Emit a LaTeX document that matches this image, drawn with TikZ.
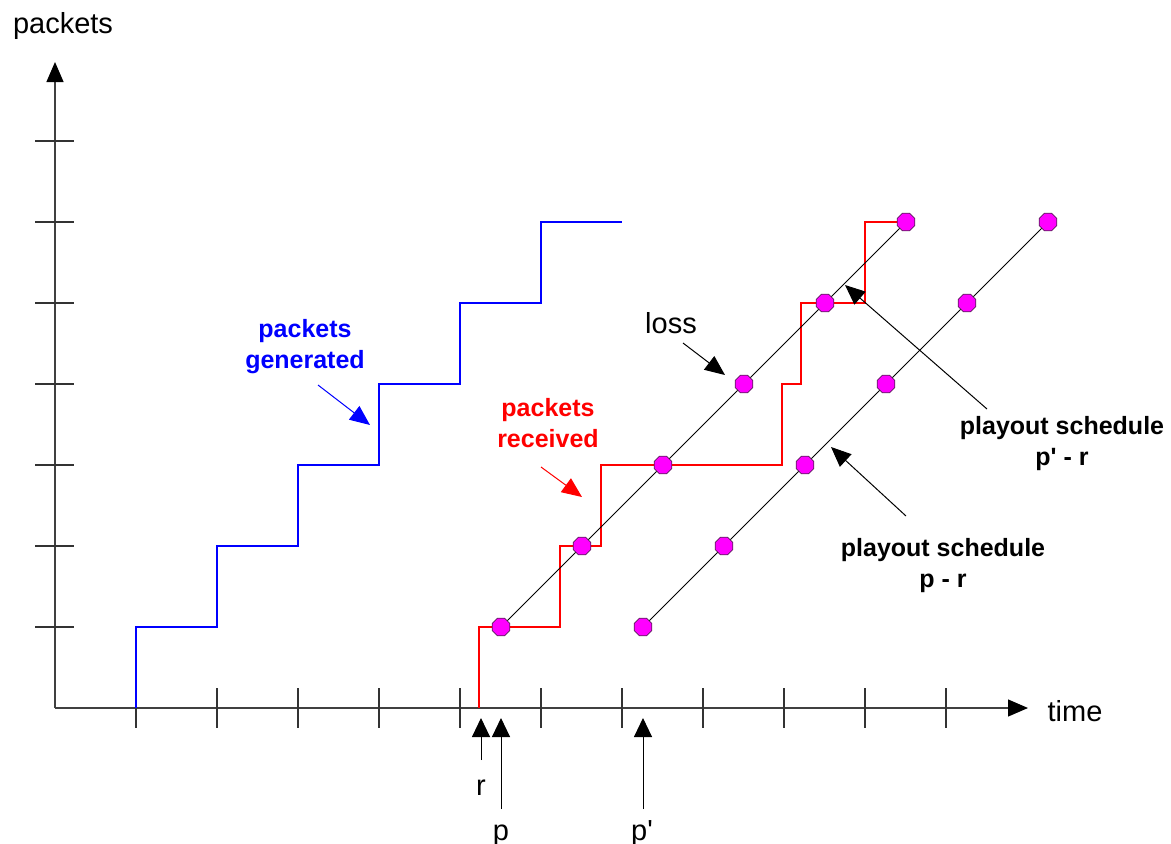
\documentclass[tikz,border=0pt]{standalone}
\usepackage{fontspec}
\setmainfont{Liberation Sans}
\usetikzlibrary{arrows.meta,shapes.geometric}
\definecolor{mag}{RGB}{255,0,255}
\definecolor{magedge}{RGB}{90,30,90}
\definecolor{pblue}{RGB}{0,0,255}
\definecolor{pred}{RGB}{255,0,0}
\begin{document}
\begin{tikzpicture}[x=1pt,y=-1pt,
  axis/.style={line width=1.2pt, draw=black!75},
  axistip/.style={-{Triangle[length=20pt,width=17pt,color=black]}},
  tick/.style={line width=1.1pt, draw=black!80},
  tri/.style={-{Triangle[length=20pt,width=17pt]}},
  tipline/.style={line width=1pt, tri},
  stair/.style={line width=1.1pt},
  diag/.style={line width=0.9pt, draw=black},
  dot/.style={regular polygon, regular polygon sides=8, minimum size=19pt, inner sep=0pt,
    fill=mag, draw=magedge, line width=0.8pt},
  lbl/.style={font=\fontsize{29}{32}\selectfont, inner sep=0pt, anchor=base},
  blbl/.style={font=\fontsize{25}{31}\selectfont\bfseries, align=center, inner sep=0pt}]
\useasboundingbox (0,0) rectangle (1171,844);

% axes
\coordinate (O) at (55,708);
\coordinate (ytip) at (55,62);
\coordinate (xtip) at (1028,708);
\draw[axis, axistip] (O) -- (ytip);
\draw[axis, axistip] (O) -- (xtip);
\foreach \x in {136,217,...,946} \draw[tick] (\x,688) -- (\x,728);
\foreach \y in {627,546,...,141} \draw[tick] (35,\y) -- (74,\y);
\node[lbl] (ylab) at (63,33) {packets};
\node[lbl] (xlab) at (1075,721) {time};

% staircases
\draw[stair, pblue] (136,708) -- (136,627) -- (217,627) -- (217,546) -- (298,546) -- (298,465)
  -- (379,465) -- (379,384) -- (460,384) -- (460,303) -- (541,303) -- (541,222) -- (622,222);
\draw[stair, pred] (479,708) -- (479,627) -- (560,627) -- (560,546) -- (601,546) -- (601,465)
  -- (782,465) -- (782,384) -- (801,384) -- (801,303) -- (865,303) -- (865,222) -- (905,222);

% playout schedule markers
\node[dot] (a1) at (501,627) {};
\node[dot] (a2) at (582,546) {};
\node[dot] (a3) at (663,465) {};
\node[dot] (a4) at (744,384) {};
\node[dot] (a5) at (825,303) {};
\node[dot] (a6) at (906,222) {};
\node[dot] (b1) at (643,627) {};
\node[dot] (b2) at (724,546) {};
\node[dot] (b3) at (805,465) {};
\node[dot] (b4) at (886,384) {};
\node[dot] (b5) at (967,303) {};
\node[dot] (b6) at (1048,222) {};
\draw[diag] (a1) -- (a2);
\draw[diag] (a2) -- (a3);
\draw[diag] (a3) -- (a4);
\draw[diag] (a4) -- (a5);
\draw[diag] (a5) -- (a6);
\draw[diag] (b1) -- (b2);
\draw[diag] (b2) -- (b3);
\draw[diag] (b3) -- (b4);
\draw[diag] (b4) -- (b5);
\draw[diag] (b5) -- (b6);

% labels
\node[blbl, text=pblue] (gen) at (305,347) {packets\\generated};
\node[blbl, text=pred] (rec) at (548,423) {packets\\received};
\node[lbl] (loss) at (671,333) {loss};
\node[blbl] (ps2) at (1062,444) {playout schedule\\p\textquotesingle{} - r};
\node[blbl] (ps1) at (943,566) {playout schedule\\p - r};

% annotation arrows
\coordinate (genS) at (318,385); \coordinate (genT) at (370,425);
\draw[tipline, pblue] (genS) -- (genT);
\coordinate (recS) at (541,467); \coordinate (recT) at (582,497);
\draw[tipline, pred] (recS) -- (recT);
\coordinate (lossS) at (683,343); \coordinate (lossT) at (725,375);
\draw[tipline] (lossS) -- (lossT);
\coordinate (ps2S) at (987,409); \coordinate (ps2T) at (845,285);
\draw[tipline] (ps2S) -- (ps2T);
\coordinate (ps1S) at (906,516); \coordinate (ps1T) at (831,447);
\draw[tipline] (ps1S) -- (ps1T);

% time markers
\node[lbl] (r) at (481,795) {r};
\node[lbl] (p) at (501,840) {p};
\node[lbl] (pp) at (642,840) {p\textquotesingle};
\coordinate (rT) at (481,718); \coordinate (pT) at (501,718); \coordinate (ppT) at (643,718);
\draw[line width=1pt, -{Triangle[length=19pt,width=18pt]}] (481,760) -- (rT);
\draw[line width=1pt, -{Triangle[length=19pt,width=18pt]}] (501,809) -- (pT);
\draw[line width=1pt, -{Triangle[length=19pt,width=18pt]}] (643,809) -- (ppT);
\end{tikzpicture}
\end{document}
